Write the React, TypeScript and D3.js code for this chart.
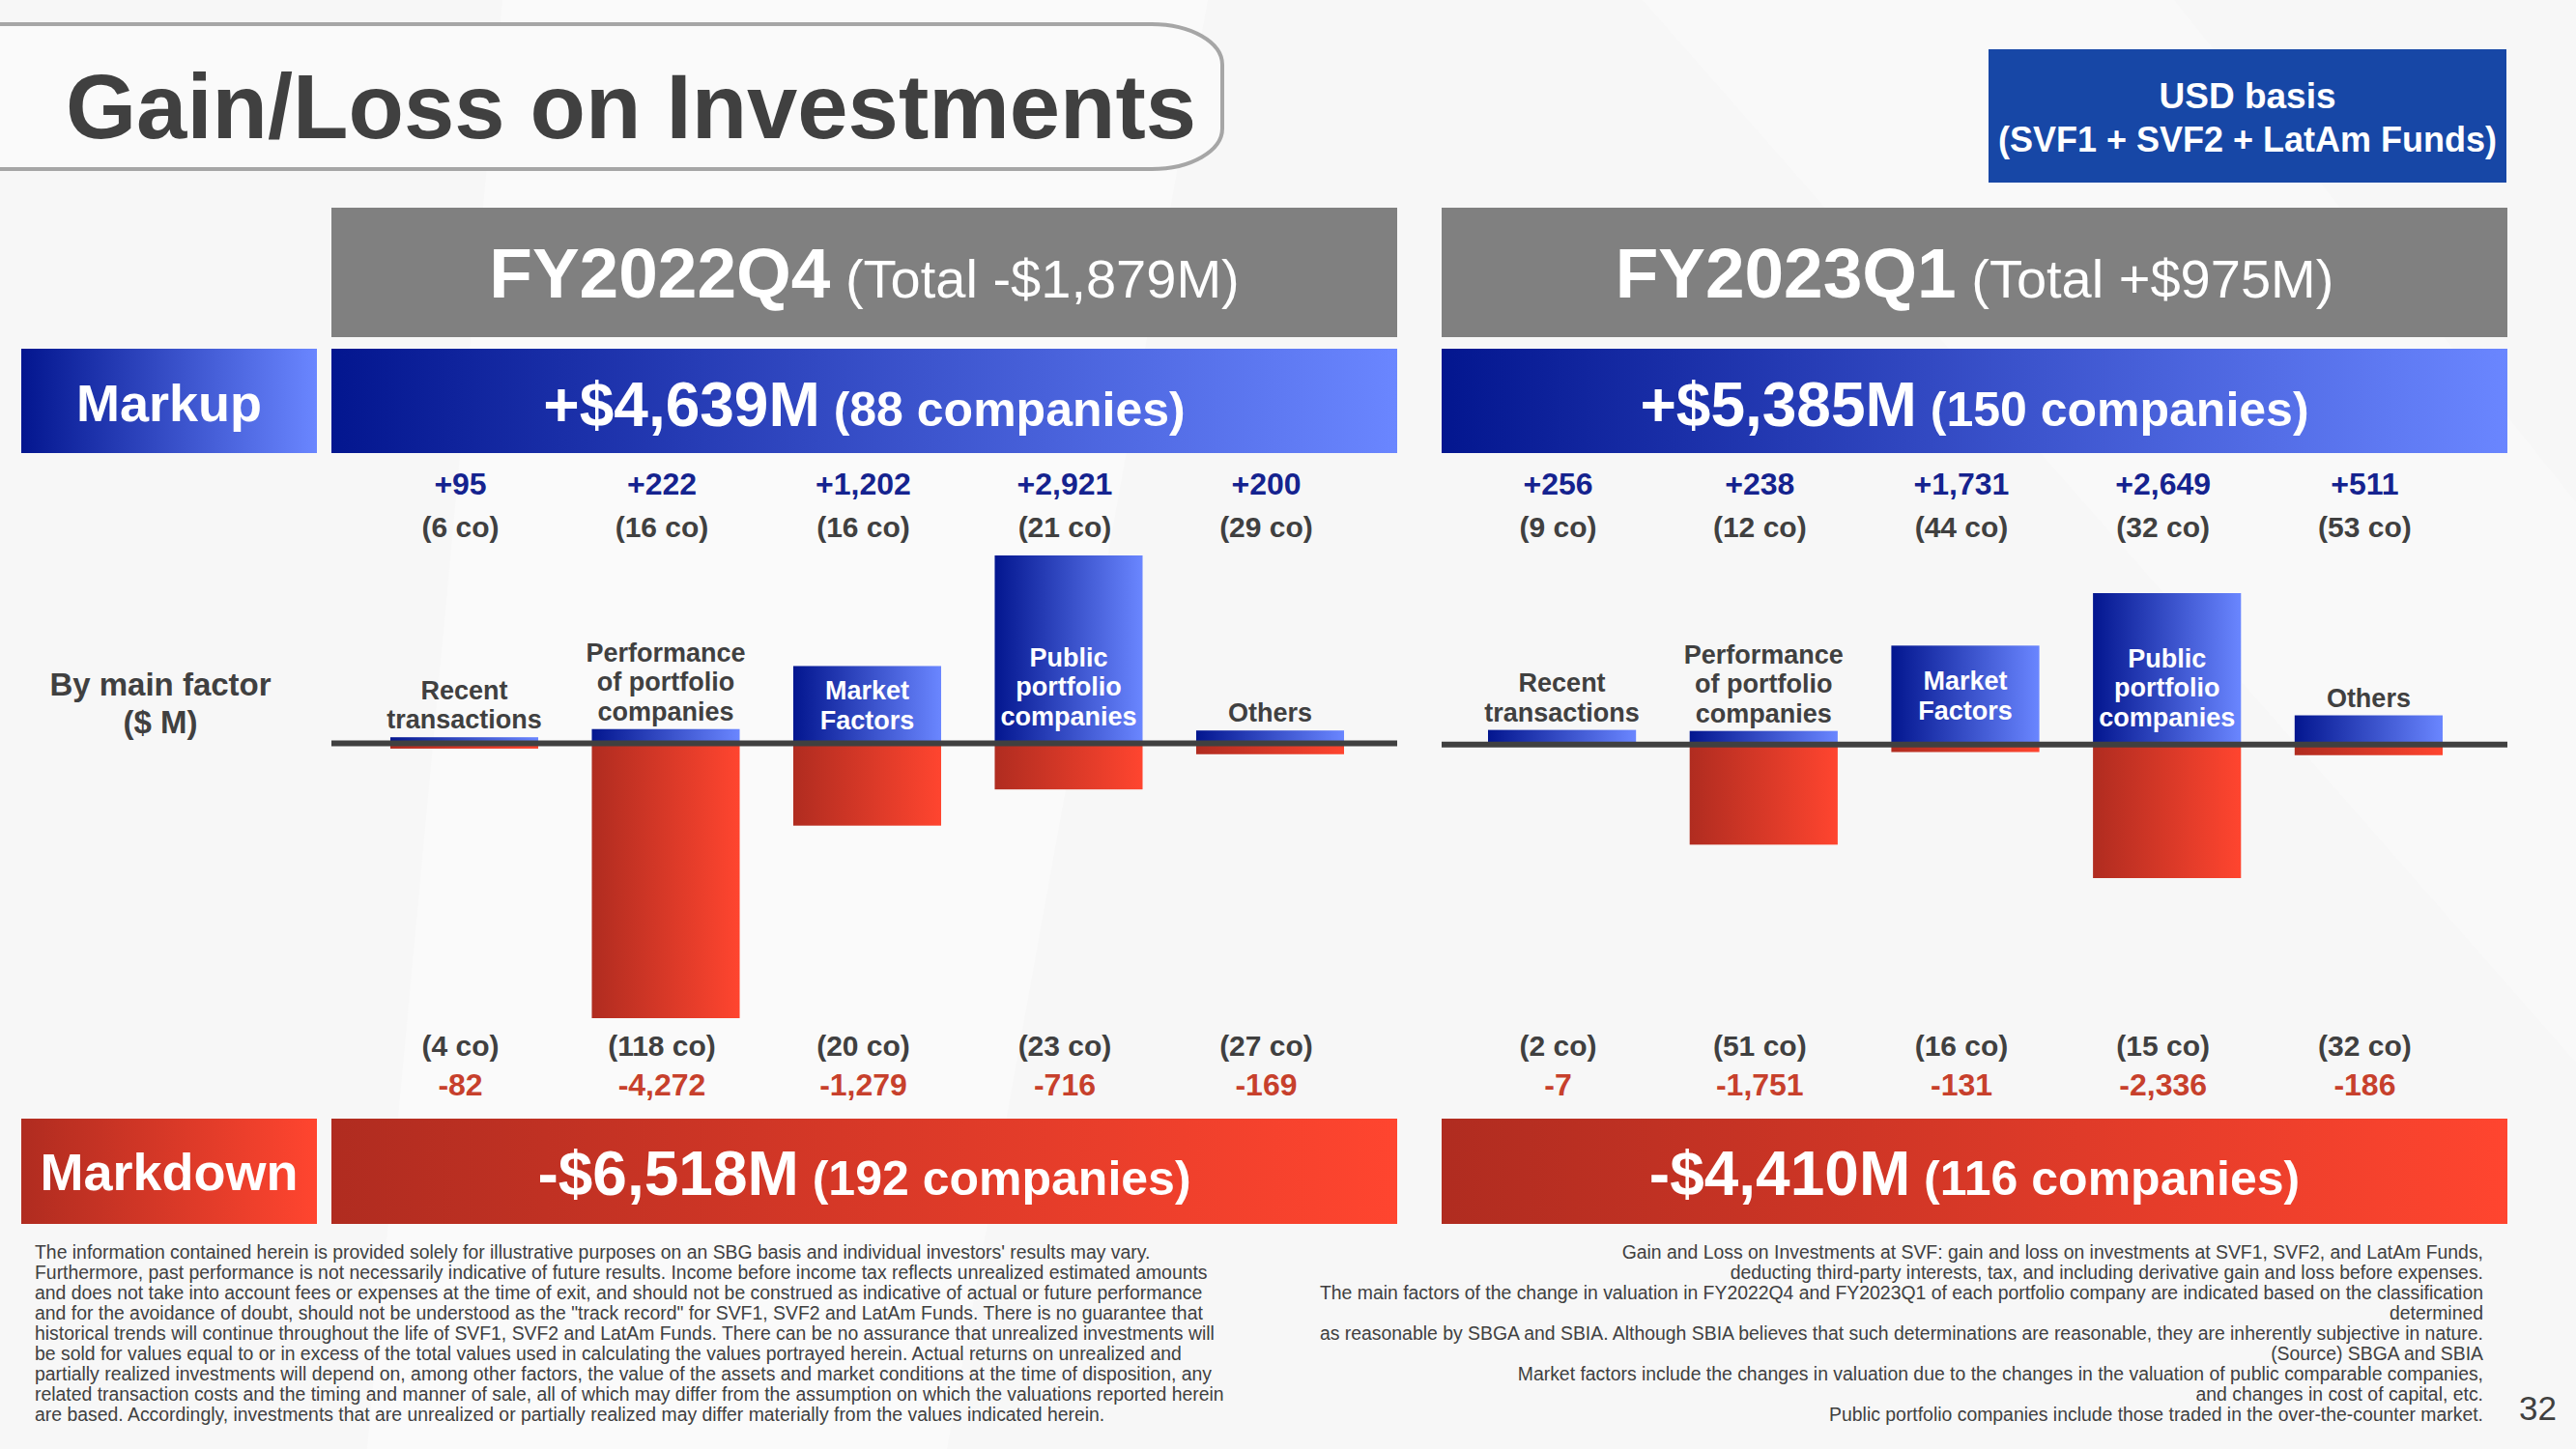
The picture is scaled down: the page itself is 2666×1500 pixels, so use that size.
import { useEffect, useRef } from 'react'
import * as d3 from 'd3'

// factor categories and label lines
const factors = ['Recent transactions', 'Performance of portfolio companies', 'Market Factors', 'Public portfolio companies', 'Others']
const factorLines = [['Recent', 'transactions'], ['Performance', 'of portfolio', 'companies'], ['Market', 'Factors'], ['Public', 'portfolio', 'companies'], ['Others']]

// FY2022Q4
const q4Markup = [95, 222, 1202, 2921, 200]
const q4MarkupCo = [6, 16, 16, 21, 29]
const q4Markdown = [-82, -4272, -1279, -716, -169]
const q4MarkdownCo = [4, 118, 20, 23, 27]

// FY2023Q1
const q1Markup = [256, 238, 1731, 2649, 511]
const q1MarkupCo = [9, 12, 44, 32, 53]
const q1Markdown = [-7, -1751, -131, -2336, -186]
const q1MarkdownCo = [2, 51, 16, 15, 32]

const periods = ['FY2022Q4', 'FY2023Q1']
const periodTotals = ['(Total -$1,879M)', '(Total +$975M)']
const markupTotals = ['+$4,639M', '+$5,385M']
const markupCompanies = [88, 150]
const markdownTotals = ['-$6,518M', '-$4,410M']
const markdownCompanies = [192, 116]

const leftNotes = [
  "The information contained herein is provided solely for illustrative purposes on an SBG basis and individual investors' results may vary.",
  'Furthermore, past performance is not necessarily indicative of future results. Income before income tax reflects unrealized estimated amounts',
  'and does not take into account fees or expenses at the time of exit, and should not be construed as indicative of actual or future performance',
  'and for the avoidance of doubt, should not be understood as the "track record" for SVF1, SVF2 and LatAm Funds. There is no guarantee that',
  'historical trends will continue throughout the life of SVF1, SVF2 and LatAm Funds. There can be no assurance that unrealized investments will',
  'be sold for values equal to or in excess of the total values used in calculating the values portrayed herein. Actual returns on unrealized and',
  'partially realized investments will depend on, among other factors, the value of the assets and market conditions at the time of disposition, any',
  'related transaction costs and the timing and manner of sale, all of which may differ from the assumption on which the valuations reported herein',
  'are based. Accordingly, investments that are unrealized or partially realized may differ materially from the values indicated herein.',
]
const rightNotes = [
  'Gain and Loss on Investments at SVF: gain and loss on investments at SVF1, SVF2, and LatAm Funds,',
  'deducting third-party interests, tax, and including derivative gain and loss before expenses.',
  'The main factors of the change in valuation in FY2022Q4 and FY2023Q1 of each portfolio company are indicated based on the classification',
  'determined',
  'as reasonable by SBGA and SBIA. Although SBIA believes that such determinations are reasonable, they are inherently subjective in nature.',
  '(Source) SBGA and SBIA',
  'Market factors include the changes in valuation due to the changes in the valuation of public comparable companies,',
  'and changes in cost of capital, etc.',
  'Public portfolio companies include those traded in the over-the-counter market.',
]

const W = 2666
const H = 1500
const FONT = '"Liberation Sans", Arial, Helvetica, sans-serif'
const DARK = '#404040'
const NAVY = '#15238f'
const RED = '#c7402c'

const locale = d3.formatLocale({ decimal: '.', thousands: ',', grouping: [3], currency: ['$', ''], minus: '-' })
const fmtUp = locale.format('+,')
const fmtDown = locale.format(',')

export default function App() {
  const svgRef = useRef<SVGSVGElement>(null)

  useEffect(() => {
    if (!svgRef.current) return
    document.body.style.margin = '0'

    const svg = d3.select(svgRef.current)
    svg.selectAll('*').remove()

    const defs = svg.append('defs')
    const gradient = (id: string, from: string, to: string) => {
      const g = defs.append('linearGradient').attr('id', id)
        .attr('x1', 0).attr('y1', 0).attr('x2', 1).attr('y2', 0)
      g.append('stop').attr('offset', '0%').attr('stop-color', from)
      g.append('stop').attr('offset', '100%').attr('stop-color', to)
    }
    gradient('blue', '#03168f', '#6a86ff')
    gradient('red', '#b02c20', '#ff452f')

    // background with faint light streaks
    svg.append('rect').attr('width', W).attr('height', H).attr('fill', '#f7f7f7')
    svg.append('path').attr('d', 'M520,0 L1250,0 L980,1500 L380,1500 Z').attr('fill', '#fafafa')
    svg.append('path').attr('d', 'M1700,0 L2250,0 L2666,520 L2666,1100 Z').attr('fill', '#f9f9f9')

    // title
    svg.append('path')
      .attr('d', 'M-5,25 H1192 A73,42 0 0 1 1265,67 V133 A73,42 0 0 1 1192,175 H-5')
      .attr('fill', '#fafafa')
      .attr('stroke', '#a6a6a6')
      .attr('stroke-width', 4)
    svg.append('text')
      .attr('x', 68).attr('y', 143)
      .attr('font-size', 94).attr('font-weight', 700)
      .attr('fill', DARK)
      .text('Gain/Loss on Investments')

    // USD basis box
    svg.append('rect').attr('x', 2058).attr('y', 51).attr('width', 536).attr('height', 138).attr('fill', '#1747a6')
    svg.append('text').attr('x', 2326).attr('y', 112).attr('text-anchor', 'middle')
      .attr('font-size', 37).attr('font-weight', 700).attr('fill', '#fff').text('USD basis')
    svg.append('text').attr('x', 2326).attr('y', 157).attr('text-anchor', 'middle')
      .attr('font-size', 36).attr('font-weight', 700).attr('fill', '#fff').text('(SVF1 + SVF2 + LatAm Funds)')

    // row labels
    svg.append('rect').attr('x', 22).attr('y', 361).attr('width', 306).attr('height', 108).attr('fill', 'url(#blue)')
    svg.append('text').attr('x', 175).attr('y', 436).attr('text-anchor', 'middle')
      .attr('font-size', 54).attr('font-weight', 700).attr('fill', '#fff').text('Markup')
    svg.append('rect').attr('x', 22).attr('y', 1158).attr('width', 306).attr('height', 109).attr('fill', 'url(#red)')
    svg.append('text').attr('x', 175).attr('y', 1232).attr('text-anchor', 'middle')
      .attr('font-size', 54).attr('font-weight', 700).attr('fill', '#fff').text('Markdown')

    const side = svg.append('text').attr('text-anchor', 'middle')
      .attr('font-size', 33).attr('font-weight', 700).attr('fill', DARK)
    side.append('tspan').attr('x', 166).attr('y', 720).text('By main factor')
    side.append('tspan').attr('x', 166).attr('y', 759).text('($ M)')

    const panels = [
      { x0: 343, x1: 1446, band: [404, 1391], yRange: [1054, 575], up: q4Markup, upCo: q4MarkupCo, down: q4Markdown, downCo: q4MarkdownCo },
      { x0: 1492, x1: 2595, band: [1540, 2528], yRange: [909, 614], up: q1Markup, upCo: q1MarkupCo, down: q1Markdown, downCo: q1MarkdownCo },
    ]

    panels.forEach((p, pi) => {
      const g = svg.append('g')
      const cx = (p.x0 + p.x1) / 2
      const pw = p.x1 - p.x0

      // period header
      g.append('rect').attr('x', p.x0).attr('y', 215).attr('width', pw).attr('height', 134).attr('fill', '#808080')
      const head = g.append('text').attr('x', cx).attr('y', 308).attr('text-anchor', 'middle').attr('fill', '#fff')
      head.append('tspan').attr('font-size', 73).attr('font-weight', 700).text(periods[pi])
      head.append('tspan').attr('font-size', 56).attr('font-weight', 400).text(' ' + periodTotals[pi])

      // markup total
      g.append('rect').attr('x', p.x0).attr('y', 361).attr('width', pw).attr('height', 108).attr('fill', 'url(#blue)')
      const mu = g.append('text').attr('x', cx).attr('y', 441).attr('text-anchor', 'middle')
        .attr('fill', '#fff').attr('font-weight', 700)
      mu.append('tspan').attr('font-size', 64).text(markupTotals[pi])
      mu.append('tspan').attr('font-size', 50).text(` (${markupCompanies[pi]} companies)`)

      // markdown total
      g.append('rect').attr('x', p.x0).attr('y', 1158).attr('width', pw).attr('height', 109).attr('fill', 'url(#red)')
      const md = g.append('text').attr('x', cx).attr('y', 1237).attr('text-anchor', 'middle')
        .attr('fill', '#fff').attr('font-weight', 700)
      md.append('tspan').attr('font-size', 64).text(markdownTotals[pi])
      md.append('tspan').attr('font-size', 50).text(` (${markdownCompanies[pi]} companies)`)

      // scales
      const x = d3.scaleBand<string>().domain(factors).range(p.band as [number, number]).paddingInner(0.266).paddingOuter(0)
      const y = d3.scaleLinear()
        .domain([d3.min(p.down) as number, d3.max(p.up) as number])
        .range(p.yRange)
      const y0 = y(0)
      const bw = x.bandwidth()
      const mid = (i: number) => (x(factors[i]) as number) + bw / 2

      // bars
      g.selectAll('rect.up').data(p.up).join('rect').attr('class', 'up')
        .attr('x', (_, i) => x(factors[i]) as number)
        .attr('y', d => y(d))
        .attr('width', bw)
        .attr('height', d => y0 - y(d))
        .attr('fill', 'url(#blue)')
      g.selectAll('rect.down').data(p.down).join('rect').attr('class', 'down')
        .attr('x', (_, i) => x(factors[i]) as number)
        .attr('y', y0)
        .attr('width', bw)
        .attr('height', d => y(d) - y0)
        .attr('fill', 'url(#red)')

      // zero line
      g.append('line').attr('x1', p.x0).attr('x2', p.x1).attr('y1', y0).attr('y2', y0)
        .attr('stroke', DARK).attr('stroke-width', 6)

      // factor labels
      const lh = 30.5
      p.up.forEach((v, i) => {
        const lines = factorLines[i]
        const n = lines.length
        const top = y(v)
        const h = y0 - top
        let last: number
        let fill = DARK
        if (h > 70) {
          fill = '#fff'
          last = h < 120 ? (top + y0) / 2 + ((n - 1) / 2) * lh + 10 : y0 - 19
        } else {
          last = top - 9
        }
        const t = g.append('text').attr('text-anchor', 'middle').attr('font-size', 27)
          .attr('font-weight', 700).attr('fill', fill)
        lines.forEach((s, k) => {
          t.append('tspan').attr('x', mid(i)).attr('y', last - (n - 1 - k) * lh).text(s)
        })
      })

      // values and company counts
      g.selectAll('text.upv').data(p.up).join('text').attr('class', 'upv')
        .attr('x', (_, i) => mid(i) - 4).attr('y', 512).attr('text-anchor', 'middle')
        .attr('font-size', 32).attr('font-weight', 700).attr('fill', NAVY)
        .text(d => fmtUp(d))
      g.selectAll('text.upc').data(p.upCo).join('text').attr('class', 'upc')
        .attr('x', (_, i) => mid(i) - 4).attr('y', 556).attr('text-anchor', 'middle')
        .attr('font-size', 30).attr('font-weight', 700).attr('fill', DARK)
        .text(d => `(${d} co)`)
      g.selectAll('text.dnc').data(p.downCo).join('text').attr('class', 'dnc')
        .attr('x', (_, i) => mid(i) - 4).attr('y', 1093).attr('text-anchor', 'middle')
        .attr('font-size', 30).attr('font-weight', 700).attr('fill', DARK)
        .text(d => `(${d} co)`)
      g.selectAll('text.dnv').data(p.down).join('text').attr('class', 'dnv')
        .attr('x', (_, i) => mid(i) - 4).attr('y', 1134).attr('text-anchor', 'middle')
        .attr('font-size', 32).attr('font-weight', 700).attr('fill', RED)
        .text(d => fmtDown(d))
    })

    // footnotes
    svg.append('g').selectAll('text').data(leftNotes).join('text')
      .attr('x', 36).attr('y', (_, i) => 1303 + i * 21)
      .attr('font-size', 19.4).attr('fill', DARK)
      .text(d => d)
    svg.append('g').selectAll('text').data(rightNotes).join('text')
      .attr('x', 2570).attr('y', (_, i) => 1303 + i * 21)
      .attr('text-anchor', 'end')
      .attr('font-size', 19.4).attr('fill', DARK)
      .text(d => d)

    svg.append('text').attr('x', 2607).attr('y', 1470)
      .attr('font-size', 35).attr('fill', DARK).text('32')
  }, [])

  return (
    <svg
      ref={svgRef}
      width={W}
      height={H}
      style={{ display: 'block', fontFamily: FONT }}
    />
  )
}
